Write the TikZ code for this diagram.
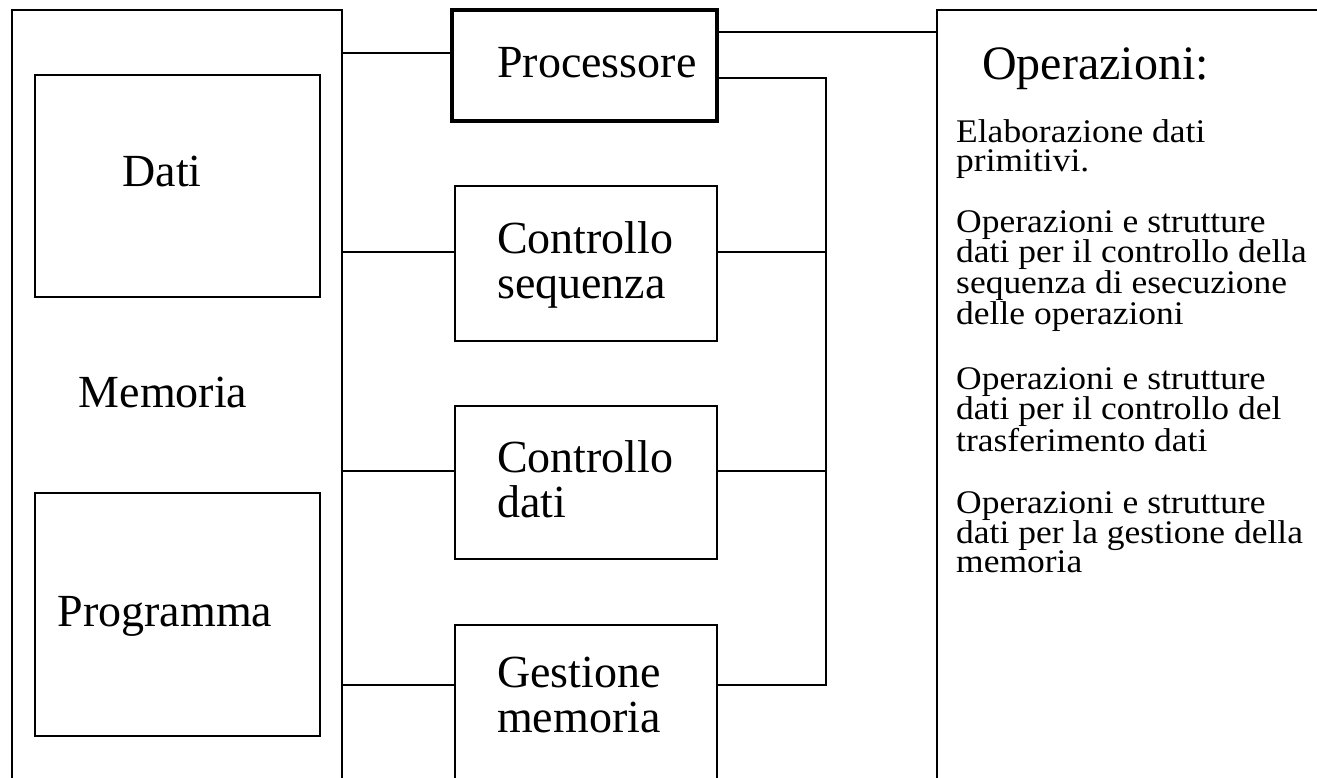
\documentclass[tikz,border=0pt]{standalone}
\usepackage{fontspec}
\setmainfont{Liberation Serif}
\newfontfamily\smallserif[FakeStretch=1.075]{Liberation Serif}
\newcommand{\stacklines}[1]{\vtop{\halign{##\hfil\cr#1\crcr}}}
\begin{document}
\begin{tikzpicture}[x=1pt,y=-1pt,
  box/.style={draw, line width=1.7pt, rectangle, inner sep=0pt},
  thickbox/.style={draw, line width=3.4pt, rectangle, inner sep=0pt},
  wire/.style={line width=1.7pt},
  bigtxt/.style={font=\fontsize{46}{45.5}\selectfont, inner sep=0pt},
  headtxt/.style={font=\fontsize{48}{48}\selectfont, inner sep=0pt, anchor=base west},
  smalltxt/.style={font=\smallserif\fontsize{33}{29}\selectfont, inner sep=0pt, anchor=base west}]
\clip (0,0) rectangle (1317,777);
\fill[white] (0,0) rectangle (1317,777);

% outer open containers (extend beyond the page)
\node[box, minimum width=330pt, minimum height=800pt] (mem) at (177,410) {};
\node[box, minimum width=420pt, minimum height=800pt] (ops) at (1147,410) {};

% memory boxes
\node[box, minimum width=285pt, minimum height=222pt] (dati) at (177.5,186) {};
\node[box, minimum width=285pt, minimum height=243pt] (prog) at (177.5,614.5) {};

% processor and controls
\node[thickbox, minimum width=265pt, minimum height=111pt] (proc) at (584.5,65.5) {};
\node[box, minimum width=262pt, minimum height=155pt] (cs) at (586,263.5) {};
\node[box, minimum width=262pt, minimum height=153pt] (cd) at (586,482.5) {};
\node[box, minimum width=262pt, minimum height=180pt] (gm) at (586,715) {};

% labels
\node[bigtxt, anchor=base] (tdati) at (162,186) {Dati};
\node[bigtxt, anchor=base] (tmem) at (163,407) {Memoria};
\node[bigtxt, anchor=base] (tprog) at (165,626) {Programma};
\node[bigtxt, anchor=base west] (tproc) at (497,77) {Processore};
\node[bigtxt, anchor=base west] (tcs) at (497,253) {\stacklines{Controllo\cr sequenza}};
\node[bigtxt, anchor=base west] (tcd) at (497,472) {\stacklines{Controllo\cr dati}};
\node[bigtxt, anchor=base west] (tgm) at (497,687) {\stacklines{Gestione\cr memoria}};
\node[headtxt] (tops) at (982,79) {Operazioni:};
\node[smalltxt] (op1) at (956,142) {\stacklines{Elaborazione dati\cr primitivi.}};
\node[smalltxt] (op2) at (956,232) {\stacklines{Operazioni e strutture\cr dati per il controllo della\cr sequenza di esecuzione\cr delle operazioni}};
\node[smalltxt] (op3) at (956,389) {\stacklines{Operazioni e strutture\cr dati per il controllo del\cr trasferimento dati}};
\node[smalltxt] (op4) at (956,513) {\stacklines{Operazioni e strutture\cr dati per la gestione della\cr memoria}};

% connectors
\coordinate (bus) at (826,0);
\coordinate (p1) at ([yshift=12.5pt]proc.west);
\coordinate (p2) at ([yshift=33.5pt]proc.east);
\coordinate (p3) at ([yshift=-12.5pt]proc.east);
\coordinate (cl) at ([yshift=11.5pt]cs.west);
\coordinate (cr) at ([yshift=11.5pt]cs.east);
\coordinate (dl) at ([yshift=11.5pt]cd.west);
\coordinate (dr) at ([yshift=11.5pt]cd.east);
\coordinate (gl) at ([yshift=30pt]gm.west);
\coordinate (gr) at ([yshift=30pt]gm.east);
\draw[wire] (mem.east |- p1) -- (p1);
\draw[wire] (p2) -- (p2 -| ops.west);
\draw[wire] (p3) -- (p3 -| bus) -- (gr -| bus) -- (gr);
\draw[wire] (mem.east |- cl) -- (cl);
\draw[wire] (cr) -- (cr -| bus);
\draw[wire] (mem.east |- dl) -- (dl);
\draw[wire] (dr) -- (dr -| bus);
\draw[wire] (mem.east |- gl) -- (gl);
\end{tikzpicture}
\end{document}
